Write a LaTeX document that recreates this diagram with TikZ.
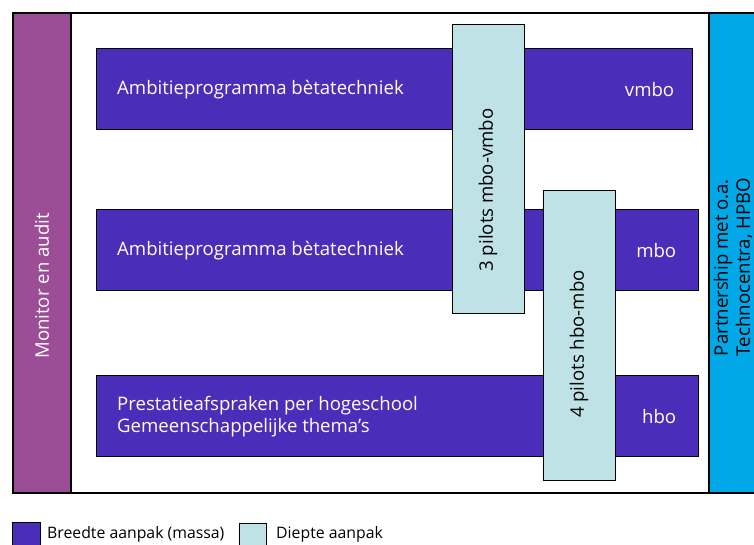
\documentclass[tikz,border=0pt]{standalone}
\usepackage{fontspec}
\setmainfont{Open Sans}
\usepackage{tikz}
\usetikzlibrary{positioning}
\definecolor{monitorpaars}{RGB}{155,78,150}
\definecolor{breedte}{RGB}{75,45,185}
\definecolor{diepte}{RGB}{190,226,230}
\definecolor{partner}{RGB}{0,168,232}
\tikzset{
  blok/.style={rectangle, draw=black, line width=1.4pt, anchor=north west, inner sep=0pt},
  balk/.style={blok, fill=breedte},
  pilot/.style={blok, fill=diepte, line width=1.2pt},
  balktekst/.style={text=white, font=\fontsize{18.6}{22}\selectfont, inner sep=0pt, align=left},
  pilottekst/.style={text=black, font=\fontsize{18.6}{22}\selectfont, inner sep=0pt, rotate=90},
  legtekst/.style={text=black, font=\fontsize{15.8}{18}\selectfont, inner sep=0pt, anchor=base west}
}

\begin{document}
\begin{tikzpicture}[x=1pt, y=-1pt]
    \useasboundingbox[fill=white] (0,0) rectangle (754,544);

    % Kader
    \node[blok, fill=white, line width=2pt, minimum width=744pt, minimum height=480pt] (kader) at (12,12) {};

    % Monitor en audit (links)
    \node[blok, fill=monitorpaars, line width=2pt, minimum width=58pt, minimum height=480pt] (monitor) at (12,12) {};
    \node[pilottekst, text=white] (monitortekst) at (42,286) {Monitor en audit};

    % Partnership (rechts)
    \node[blok, fill=partner, line width=2pt, minimum width=48pt, minimum height=480pt] (partnership) at (708,12) {};
    \node[pilottekst, align=left] (partnertekst) at (733,267) {Partnership met o.a.\\Technocentra, HPBO};

    % Breedte aanpak: de drie balken
    \node[balk, minimum width=596pt, minimum height=81pt] (vmbo) at (96,48) {};
    \node[balk, minimum width=602pt, minimum height=81pt] (mbo) at (96,209) {};
    \node[balk, minimum width=602pt, minimum height=81pt] (hbo) at (96,375) {};

    \node[balktekst, anchor=west] (vmbotekst) at ([xshift=21pt]vmbo.west) {Ambitieprogramma bètatechniek};
    \node[balktekst, anchor=east] (vmbolabel) at ([xshift=-19pt]vmbo.east) {vmbo};
    \node[balktekst, anchor=west] (mbotekst) at ([xshift=21pt]mbo.west) {Ambitieprogramma bètatechniek};
    \node[balktekst, anchor=east] (mbolabel) at ([xshift=-23pt]mbo.east) {mbo};
    \node[balktekst, anchor=west] (hbotekst) at ([xshift=21pt]hbo.west) {Prestatieafspraken per hogeschool\\Gemeenschappelijke thema’s};
    \node[balktekst, anchor=east] (hbolabel) at ([xshift=-23pt]hbo.east) {hbo};

    % Diepte aanpak: pilots
    \node[pilot, minimum width=72pt, minimum height=289pt] (pilotA) at (452,24) {};
    \node[pilottekst] (pilotAtekst) at (488,190) {3 pilots mbo-vmbo};
    \node[pilot, minimum width=72pt, minimum height=290pt] (pilotB) at (543,190) {};
    \node[pilottekst] (pilotBtekst) at (579,344) {4 pilots hbo-mbo};

    % Legenda
    \node[balk, line width=1.2pt, minimum width=28pt, minimum height=26pt] (legbreedte) at (12,522) {};
    \node[legtekst] (legbreedtetekst) at (47,538) {Breedte aanpak (massa)};
    \node[pilot, minimum width=27pt, minimum height=26pt] (legdiepte) at (239,523) {};
    \node[legtekst] (legdieptetekst) at (276,538) {Diepte aanpak};
\end{tikzpicture}
\end{document}
